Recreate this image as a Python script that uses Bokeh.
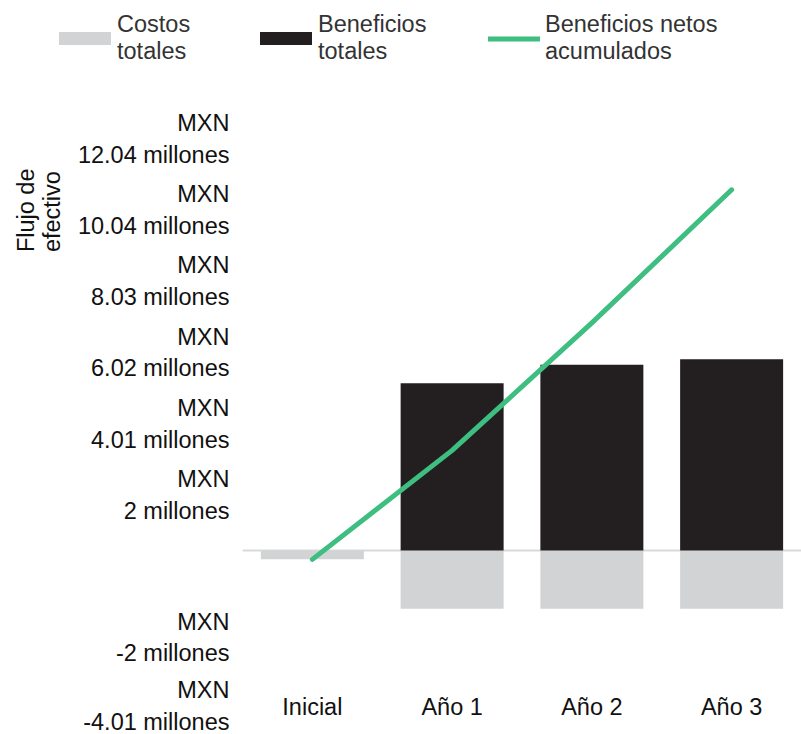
from bokeh.plotting import figure
from bokeh.models import FactorRange, Range1d, FixedTicker, Legend, LegendItem, Span, Title
from bokeh.embed import file_html
from bokeh.resources import INLINE

# ---- data (millions of MXN) ----
categories = ["Inicial", "Año 1", "Año 2", "Año 3"]
costos_totales = [-0.25, -1.64, -1.64, -1.64]
beneficios_totales = [0.0, 4.71, 5.23, 5.39]
beneficios_netos_acumulados = [-0.25, 2.82, 6.41, 10.16]
y_ticks = [-4.01, -2.0, 2.0, 4.01, 6.02, 8.03, 10.04, 12.04]
y_tick_labels = ["-4.01 millones", "-2 millones", "2 millones", "4.01 millones",
                 "6.02 millones", "8.03 millones", "10.04 millones", "12.04 millones"]
legend_labels = ["Costos\ntotales", "Beneficios\ntotales", "Beneficios netos\nacumulados"]
y_title = "Flujo de\nefectivo"

FONT = "Liberation Sans"
FS = "23.5px"
GRAY = "#d1d3d4"
BLACK = "#231f20"
GREEN = "#3ebe80"

# ---------- main chart ----------
p = figure(
    width=801, height=664,
    x_range=FactorRange(*categories, range_padding=0),
    y_range=Range1d(-4.028, 13.52),
    output_backend="svg", toolbar_location=None, title=None,
    min_border_left=241, min_border_right=0, min_border_top=0, min_border_bottom=41,
)
p.outline_line_color = None
p.xgrid.visible = False
p.ygrid.visible = False

base = Span(location=0, dimension="width", line_color="#d9d9d9", line_width=2, level="underlay")
p.add_layout(base)

r_cost = p.vbar(x=categories, top=costos_totales, bottom=0, width=0.737,
                fill_color=GRAY, line_color=None)
r_ben = p.vbar(x=categories, top=beneficios_totales, bottom=0, width=0.737,
               fill_color=BLACK, line_color=None)
r_net = p.line(x=categories, y=beneficios_netos_acumulados, line_color=GREEN,
               line_width=5, line_cap="round", line_join="round")

ya = p.yaxis[0]
ya.ticker = FixedTicker(ticks=y_ticks)
ya.major_label_overrides = {t: " \nMXN\n" + lab for t, lab in zip(y_ticks, y_tick_labels)}
ya.axis_line_color = None
ya.major_tick_line_color = None
ya.minor_tick_line_color = None
ya.major_tick_out = 0
ya.major_label_standoff = 13
ya.major_label_text_font = FONT
ya.major_label_text_font_size = FS
ya.major_label_text_color = "#111111"
ya.major_label_text_line_height = 1.22

xa = p.xaxis[0]
xa.axis_line_color = None
xa.major_tick_line_color = None
xa.major_tick_out = 0
xa.major_label_standoff = 0
xa.major_label_text_font = FONT
xa.major_label_text_font_size = FS
xa.major_label_text_color = "#111111"

t = Title(text=y_title, align="right", offset=98, standoff=20,
          text_font=FONT, text_font_size=FS, text_font_style="normal",
          text_color="#111111")
p.add_layout(t, "left")

# ---------- legend strip (separate root, stacked above) ----------
lg = figure(width=801, height=70, x_range=Range1d(0, 1), y_range=Range1d(0, 1),
            output_backend="svg", toolbar_location=None, title=None,
            x_axis_location=None, y_axis_location=None,
            min_border_left=0, min_border_right=0, min_border_top=0, min_border_bottom=0)
lg.outline_line_color = None
lg.xgrid.visible = False
lg.ygrid.visible = False
# legend keys: same styles as the series, kept outside the visible range
k_cost = lg.vbar(x=[5], top=[6], bottom=[5], width=0.5, fill_color=GRAY, line_color=None)
k_ben = lg.vbar(x=[5], top=[6], bottom=[5], width=0.5, fill_color=BLACK, line_color=None)
k_net = lg.line(x=[5, 6], y=[5, 5], line_color=GREEN, line_width=5, line_cap="round")

common = dict(orientation="horizontal", label_text_font=FONT, label_text_font_size=FS,
              label_text_color="#333333", label_text_line_height=1.22,
              padding=0, margin=0, border_line_color=None, background_fill_alpha=0)

leg1 = Legend(items=[LegendItem(label=legend_labels[0], renderers=[k_cost])],
              location=(52, 5), glyph_width=65, glyph_height=16, label_standoff=-2, **common)
leg2 = Legend(items=[LegendItem(label=legend_labels[1], renderers=[k_ben])],
              location=(253, 5), glyph_width=65, glyph_height=16, label_standoff=-2, **common)
leg3 = Legend(items=[LegendItem(label=legend_labels[2], renderers=[k_net])],
              location=(488, 5), glyph_width=52, glyph_height=13, label_standoff=5, **common)
for lgd in (leg1, leg2, leg3):
    lg.add_layout(lgd, "center")

open("out.html", "w").write(file_html([lg, p], INLINE))
